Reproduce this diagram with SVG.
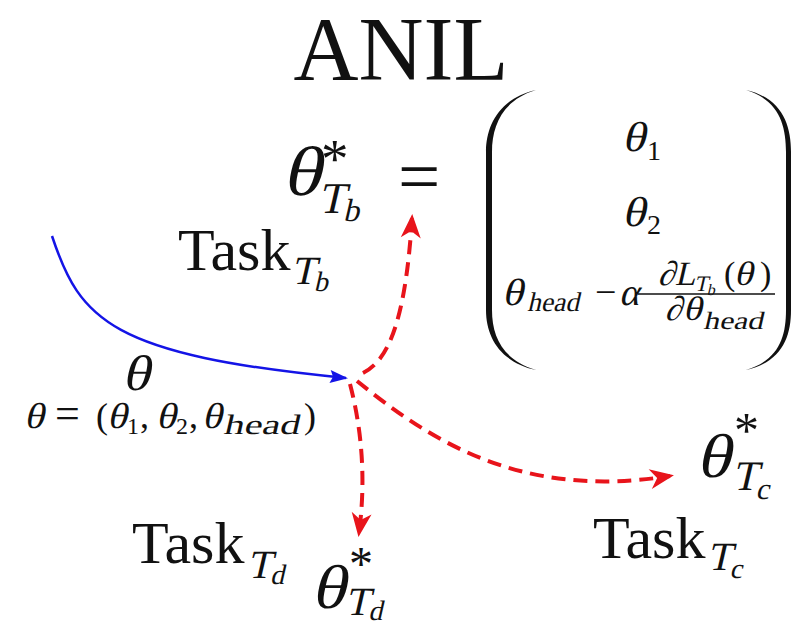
<svg xmlns="http://www.w3.org/2000/svg" width="792" height="626" viewBox="0 0 792 626">
<style>
text{fill:#111;font-family:"Liberation Serif","DejaVu Serif",serif;font-style:normal}
.red{fill:none;stroke:#e8141b;stroke-width:4;stroke-dasharray:14 8}
.blue{fill:none;stroke:#1414e6;stroke-width:2.5}
</style>
<defs>
<marker id="ar" viewBox="-24 -12 30 24" refX="0" refY="0" markerWidth="30" markerHeight="24" markerUnits="userSpaceOnUse" orient="auto">
<path d="M4,0 L-20,-10 L-13,0 L-20,10 Z" fill="#e8141b"/>
</marker>
<marker id="ab" viewBox="-18 -8 22 16" refX="0" refY="0" markerWidth="22" markerHeight="16" markerUnits="userSpaceOnUse" orient="auto">
<path d="M2,0 L-16,-6.5 L-13,0 L-16,6.5 Z" fill="#1414e6"/>
</marker>
</defs>
<rect width="792" height="626" fill="#fff"/>
<g id="title"><text x="401" y="80" font-size="90" text-anchor="middle">ANIL</text></g>
<g id="connectors">
<path class="blue" d="M52,236 C80,320 110,355 346,378" marker-end="url(#ab)"/>
<path class="red" d="M363,373 C385,362 405,330 412,218" marker-end="url(#ar)"/>
<path class="red" d="M350,384 C362,430 366,480 359,533" marker-end="url(#ar)"/>
<path class="red" d="M357,381 C430,440 520,500 670,476" marker-end="url(#ar)"/>
</g>
<g id="theta-star-Tb">
<g transform="translate(282,195) skewX(-13) scale(1.15,1)"><text font-size="70">θ</text></g>
<text x="321" y="177" font-size="55">*</text>
<g transform="translate(318,213) skewX(-13)"><text font-size="44">T<tspan font-size="32" dy="8">b</tspan></text></g>
<text x="398" y="201" font-size="75">=</text>
</g>
<g id="matrix">
<path d="M536,90 C500,98 486,125 486,152 L486,310 C486,337 500,362 536,370 C503,360 492,337 492,310 L492,152 C492,125 503,100 536,90 Z" fill="#111"/>
<path d="M746,90 C782,98 791,125 791,152 L791,310 C791,337 782,362 746,370 C779,360 786,337 786,310 L786,152 C786,125 779,100 746,90 Z" fill="#111"/>
<g transform="translate(622,151) skewX(-13) scale(1.15,1)"><text font-size="42">θ</text></g>
<text x="647" y="160" font-size="28">1</text>
<g transform="translate(622,226) skewX(-13) scale(1.15,1)"><text font-size="42">θ</text></g>
<text x="647" y="234" font-size="28">2</text>
<g transform="translate(502,305) skewX(-13) scale(1.15,1)"><text font-size="38">θ</text></g>
<g transform="translate(527,311) skewX(-13)"><text font-size="27" textLength="52" lengthAdjust="spacingAndGlyphs">head</text></g>
<text x="595" y="305" font-size="38">−</text>
<g transform="translate(619,305) skewX(-13)"><text font-size="38">α</text></g>
<line x1="638" y1="294" x2="775" y2="294" stroke="#111" stroke-width="1.6"/>
<g transform="translate(658,285) skewX(-13)"><text font-size="34">∂L<tspan font-size="22" dy="6">T</tspan><tspan font-size="16" dy="4">b</tspan></text></g>
<text x="724" y="285" font-size="34">(</text>
<g transform="translate(734,285) skewX(-13) scale(1.15,1)"><text font-size="34">θ</text></g>
<text x="760" y="285" font-size="34">)</text>
<g transform="translate(665,320) skewX(-13)"><text font-size="34">∂</text></g>
<g transform="translate(683,320) skewX(-13) scale(1.15,1)"><text font-size="34">θ</text></g>
<g transform="translate(703,329) skewX(-13)"><text font-size="25" textLength="60" lengthAdjust="spacingAndGlyphs">head</text></g>
</g>
<g id="task-Tb">
<text x="178" y="270" font-size="60">Task</text>
<g transform="translate(291,284) skewX(-13)"><text font-size="40">T<tspan font-size="28" dy="7">b</tspan></text></g>
</g>
<g id="theta">
<g transform="translate(122,390) skewX(-13) scale(1.15,1)"><text font-size="50">θ</text></g>
<g transform="translate(24,428) skewX(-13) scale(1.15,1)"><text font-size="36">θ</text></g>
<text x="55" y="428" font-size="44">=</text>
<text x="96" y="428" font-size="36">(</text>
<g transform="translate(107,428) skewX(-13) scale(1.15,1)"><text font-size="36">θ</text></g>
<text x="127" y="434" font-size="24">1</text>
<text x="140" y="428" font-size="36">,</text>
<g transform="translate(156,428) skewX(-13) scale(1.15,1)"><text font-size="36">θ</text></g>
<text x="176" y="434" font-size="24">2</text>
<text x="189" y="428" font-size="36">,</text>
<g transform="translate(202,428) skewX(-13) scale(1.15,1)"><text font-size="36">θ</text></g>
<g transform="translate(223,434) skewX(-13)"><text font-size="28" textLength="76" lengthAdjust="spacingAndGlyphs">head</text></g>
<text x="304" y="428" font-size="36">)</text>
</g>
<g id="theta-star-Tc">
<g transform="translate(696,477) skewX(-13) scale(1.15,1)"><text font-size="62">θ</text></g>
<text x="734" y="447" font-size="50">*</text>
<g transform="translate(732,490) skewX(-13)"><text font-size="42">T<tspan font-size="30" dy="9">c</tspan></text></g>
</g>
<g id="task-Tc">
<text x="593" y="558" font-size="60">Task</text>
<g transform="translate(707,570) skewX(-13)"><text font-size="40">T<tspan font-size="28" dy="8">c</tspan></text></g>
</g>
<g id="task-Td">
<text x="132" y="563" font-size="60">Task</text>
<g transform="translate(247,578) skewX(-13)"><text font-size="40">T<tspan font-size="28" dy="6">d</tspan></text></g>
</g>
<g id="theta-star-Td">
<g transform="translate(311,608) skewX(-13) scale(1.15,1)"><text font-size="62">θ</text></g>
<text x="349" y="580" font-size="48">*</text>
<g transform="translate(345,615) skewX(-13)"><text font-size="40">T<tspan font-size="28" dy="5">d</tspan></text></g>
</g>
</svg>
